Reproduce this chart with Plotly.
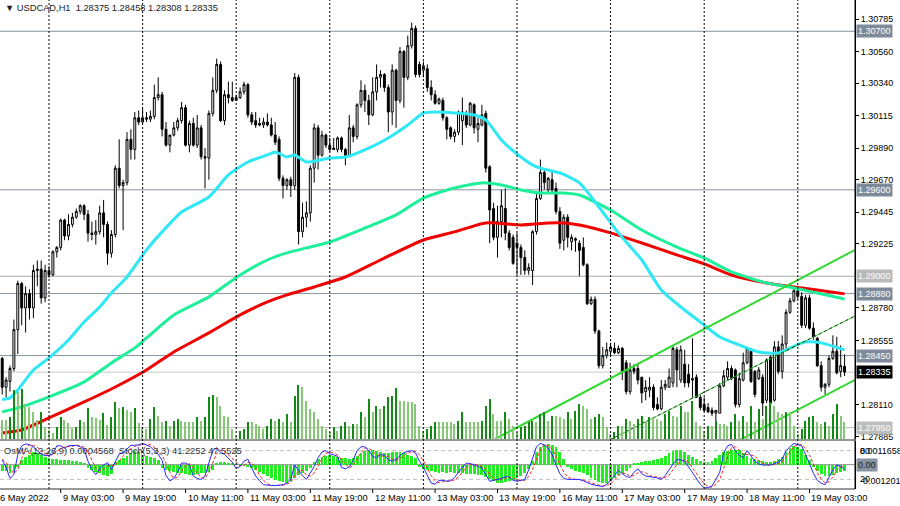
import plotly.graph_objects as go

FONT = "Liberation Sans, Arial, sans-serif"

# USDCAD H1, bar 0 = 6 May 2022 12:00, one bar per hour (weekend skipped)
opens = [1.2843, 1.2823, 1.2827, 1.2836, 1.2863, 1.2895, 1.2878, 1.2888, 1.2878, 1.2904,
         1.2905, 1.2885, 1.2904, 1.2901, 1.2917, 1.2920, 1.2939, 1.2928, 1.2936, 1.2941,
         1.2945, 1.2949, 1.2943, 1.2930, 1.2929, 1.2931, 1.2944, 1.2936, 1.2916, 1.2929,
         1.2975, 1.2963, 1.2965, 1.2995, 1.2988, 1.3010, 1.3007, 1.3010, 1.3009, 1.3011,
         1.3024, 1.3026, 1.3002, 1.2991, 1.2998, 1.3003, 1.3008, 1.3017, 1.2991, 1.3006,
         1.2991, 1.3003, 1.2983, 1.2982, 1.3013, 1.3029, 1.3047, 1.3008, 1.3026, 1.3024,
         1.3022, 1.3024, 1.3028, 1.3033, 1.3012, 1.3008, 1.3006, 1.3005, 1.3007, 1.3005,
         1.2998, 1.2995, 1.2968, 1.2963, 1.2967, 1.2963, 1.3038, 1.2931, 1.2941, 1.2944,
         1.2975, 1.3003, 1.2984, 1.2998, 1.2991, 1.2989, 1.2988, 1.2996, 1.2988, 1.2984,
         1.3003, 1.2997, 1.3019, 1.3029, 1.3022, 1.3012, 1.3028, 1.3038, 1.3040, 1.3031,
         1.3014, 1.3043, 1.3022, 1.3056, 1.3038, 1.3060, 1.3072, 1.3047, 1.3043, 1.3044,
         1.3031, 1.3026, 1.3020, 1.3022, 1.3010, 1.3003, 1.2997, 1.3000, 1.3008, 1.3013,
         1.3005, 1.3019, 1.3002, 1.3005, 1.3013, 1.2976, 1.2947, 1.2927, 1.2938, 1.2947,
         1.2930, 1.2927, 1.2923, 1.2920, 1.2913, 1.2904, 1.2904, 1.2931, 1.2954, 1.2972,
         1.2960, 1.2967, 1.2961, 1.2945, 1.2925, 1.2941, 1.2924, 1.2925, 1.2923, 1.2920,
         1.2908, 1.2881, 1.2884, 1.2862, 1.2838, 1.2845, 1.2848, 1.2850, 1.2847, 1.2850,
         1.2840, 1.2820, 1.2836, 1.2836, 1.2830, 1.2820, 1.2821, 1.2823, 1.2811, 1.2808,
         1.2823, 1.2823, 1.2826, 1.2849, 1.2828, 1.2839, 1.2832, 1.2828, 1.2830, 1.2816,
         1.2811, 1.2809, 1.2807, 1.2805, 1.2805, 1.2824, 1.2830, 1.2836, 1.2835, 1.2811,
         1.2828, 1.2840, 1.2848, 1.2834, 1.2829, 1.2830, 1.2814, 1.2844, 1.2814, 1.2851,
         1.2834, 1.2853, 1.2875, 1.2883, 1.2890, 1.2886, 1.2866, 1.2885, 1.2864, 1.2857,
         1.2838, 1.2823, 1.2825, 1.2843, 1.2848, 1.2834, 1.28375]
highs = [1.2844, 1.2830, 1.2838, 1.2870, 1.2897, 1.2896, 1.2893, 1.2891, 1.2908, 1.2911,
         1.2911, 1.2908, 1.2907, 1.2918, 1.2921, 1.2940, 1.2940, 1.2943, 1.2944, 1.2947,
         1.2950, 1.2950, 1.2946, 1.2938, 1.2939, 1.2949, 1.2953, 1.2938, 1.2932, 1.2977,
         1.2995, 1.2967, 1.3000, 1.3002, 1.3014, 1.3015, 1.3017, 1.3014, 1.3015, 1.3033,
         1.3038, 1.3028, 1.3007, 1.2997, 1.3007, 1.3010, 1.3021, 1.3019, 1.3008, 1.3010,
         1.3012, 1.3005, 1.2989, 1.3015, 1.3038, 1.3051, 1.3049, 1.3029, 1.3035, 1.3035,
         1.3026, 1.3031, 1.3035, 1.3034, 1.3014, 1.3014, 1.3010, 1.3010, 1.3013, 1.3010,
         1.3007, 1.2997, 1.2970, 1.2968, 1.2969, 1.3041, 1.3040, 1.2951, 1.2952, 1.2977,
         1.3006, 1.3005, 1.3001, 1.2999, 1.2996, 1.2996, 1.2997, 1.2997, 1.2989, 1.3012,
         1.3005, 1.3020, 1.3036, 1.3033, 1.3026, 1.3038, 1.3047, 1.3043, 1.3041, 1.3033,
         1.3047, 1.3044, 1.3059, 1.3057, 1.3067, 1.3076, 1.3074, 1.3049, 1.3049, 1.3047,
         1.3036, 1.3029, 1.3024, 1.3024, 1.3011, 1.3004, 1.3002, 1.3015, 1.3024, 1.3015,
         1.3021, 1.3020, 1.3010, 1.3019, 1.3015, 1.2977, 1.2951, 1.2949, 1.2960, 1.2961,
         1.2932, 1.2929, 1.2930, 1.2922, 1.2918, 1.2909, 1.2932, 1.2958, 1.2981, 1.2975,
         1.2969, 1.2973, 1.2965, 1.2948, 1.2943, 1.2943, 1.2929, 1.2927, 1.2925, 1.2927,
         1.2909, 1.2886, 1.2886, 1.2863, 1.2851, 1.2854, 1.2854, 1.2854, 1.2852, 1.2851,
         1.2842, 1.2840, 1.2839, 1.2839, 1.2830, 1.2828, 1.2830, 1.2825, 1.2816, 1.2828,
         1.2828, 1.2836, 1.2852, 1.2851, 1.2852, 1.2849, 1.2839, 1.2857, 1.2832, 1.2818,
         1.2816, 1.2812, 1.2809, 1.2807, 1.2826, 1.2835, 1.2841, 1.2838, 1.2836, 1.2833,
         1.2847, 1.2851, 1.2850, 1.2835, 1.2837, 1.2832, 1.2843, 1.2845, 1.2855, 1.2855,
         1.2859, 1.2877, 1.2885, 1.2892, 1.2892, 1.2889, 1.2887, 1.2887, 1.2868, 1.2858,
         1.2841, 1.2826, 1.2845, 1.2859, 1.2858, 1.2852, 1.28458]
lows = [1.2818, 1.2816, 1.2820, 1.2834, 1.2846, 1.2866, 1.2861, 1.2870, 1.2871, 1.2893,
        1.2881, 1.2882, 1.2899, 1.2900, 1.2913, 1.2918, 1.2925, 1.2925, 1.2934, 1.2940,
        1.2943, 1.2939, 1.2924, 1.2925, 1.2922, 1.2929, 1.2927, 1.2908, 1.2913, 1.2927,
        1.2961, 1.2932, 1.2963, 1.2981, 1.2981, 1.3005, 1.3006, 1.3007, 1.3007, 1.3009,
        1.3022, 1.2997, 1.2990, 1.2986, 1.2997, 1.3001, 1.3006, 1.2990, 1.2986, 1.2990,
        1.2989, 1.2981, 1.2961, 1.2967, 1.3011, 1.3027, 1.3007, 1.3005, 1.3020, 1.3021,
        1.3022, 1.3023, 1.3026, 1.3010, 1.3005, 1.3003, 1.3004, 1.3003, 1.3004, 1.2997,
        1.2991, 1.2966, 1.2954, 1.2960, 1.2955, 1.2960, 1.2922, 1.2927, 1.2934, 1.2938,
        1.2965, 1.2974, 1.2983, 1.2989, 1.2986, 1.2988, 1.2986, 1.2986, 1.2977, 1.2983,
        1.2993, 1.2995, 1.3017, 1.3014, 1.3005, 1.3011, 1.3022, 1.3031, 1.3028, 1.3000,
        1.3005, 1.3003, 1.3020, 1.3017, 1.3036, 1.3058, 1.3038, 1.3038, 1.3038, 1.3028,
        1.3022, 1.3019, 1.3019, 1.3008, 1.2995, 1.2995, 1.2993, 1.2998, 1.2991, 1.3003,
        1.3004, 1.2999, 1.2993, 1.3004, 1.2972, 1.2923, 1.2925, 1.2913, 1.2927, 1.2925,
        1.2918, 1.2908, 1.2901, 1.2901, 1.2901, 1.2901, 1.2894, 1.2929, 1.2953, 1.2960,
        1.2958, 1.2958, 1.2943, 1.2919, 1.2918, 1.2920, 1.2918, 1.2917, 1.2900, 1.2907,
        1.2880, 1.2880, 1.2860, 1.2836, 1.2836, 1.2843, 1.2844, 1.2846, 1.2846, 1.2828,
        1.2818, 1.2818, 1.2832, 1.2825, 1.2812, 1.2814, 1.2816, 1.2807, 1.2807, 1.2807,
        1.2821, 1.2823, 1.2823, 1.2823, 1.2826, 1.2823, 1.2823, 1.2816, 1.2816, 1.2807,
        1.2806, 1.2805, 1.2803, 1.2796, 1.2805, 1.2823, 1.2828, 1.2828, 1.2809, 1.2809,
        1.2827, 1.2839, 1.2826, 1.2816, 1.2828, 1.2803, 1.2812, 1.2811, 1.2813, 1.2832,
        1.2829, 1.2849, 1.2874, 1.2882, 1.2884, 1.2864, 1.2864, 1.2863, 1.2856, 1.2837,
        1.2820, 1.2818, 1.2823, 1.2842, 1.2832, 1.2830, 1.28308]
closes = [1.2823, 1.2828, 1.2836, 1.2863, 1.2895, 1.2878, 1.2888, 1.2878, 1.2904, 1.2905,
          1.2885, 1.2904, 1.2901, 1.2917, 1.2920, 1.2939, 1.2928, 1.2936, 1.2941, 1.2945,
          1.2949, 1.2943, 1.2930, 1.2929, 1.2931, 1.2944, 1.2936, 1.2916, 1.2929, 1.2975,
          1.2963, 1.2965, 1.2995, 1.2988, 1.3010, 1.3007, 1.3010, 1.3009, 1.3011, 1.3024,
          1.3026, 1.3002, 1.2991, 1.2998, 1.3003, 1.3008, 1.3017, 1.2991, 1.3006, 1.2991,
          1.3003, 1.2983, 1.2982, 1.3013, 1.3029, 1.3047, 1.3008, 1.3026, 1.3024, 1.3022,
          1.3024, 1.3028, 1.3033, 1.3012, 1.3007, 1.3005, 1.3005, 1.3007, 1.3005, 1.2998,
          1.2993, 1.2968, 1.2963, 1.2967, 1.2963, 1.3038, 1.2931, 1.2941, 1.2944, 1.2975,
          1.3003, 1.2984, 1.2998, 1.2991, 1.2988, 1.2988, 1.2996, 1.2988, 1.2984, 1.3003,
          1.2997, 1.3019, 1.3029, 1.3022, 1.3012, 1.3028, 1.3038, 1.3040, 1.3031, 1.3014,
          1.3043, 1.3022, 1.3056, 1.3038, 1.3060, 1.3072, 1.3040, 1.3040, 1.3046, 1.3031,
          1.3026, 1.3020, 1.3023, 1.3010, 1.3002, 1.2997, 1.3000, 1.3014, 1.3014, 1.3005,
          1.3020, 1.3003, 1.3006, 1.3012, 1.2975, 1.2946, 1.2927, 1.2938, 1.2949, 1.2930,
          1.2920, 1.2909, 1.2920, 1.2913, 1.2904, 1.2906, 1.2931, 1.2954, 1.2972, 1.2965,
          1.2968, 1.2960, 1.2945, 1.2923, 1.2941, 1.2927, 1.2927, 1.2926, 1.2918, 1.2908,
          1.2881, 1.2884, 1.2862, 1.2838, 1.2845, 1.2849, 1.2851, 1.2847, 1.2850, 1.2834,
          1.2820, 1.2835, 1.2834, 1.2828, 1.2819, 1.2823, 1.2823, 1.2809, 1.2808, 1.2823,
          1.2825, 1.2830, 1.2850, 1.2835, 1.2849, 1.2826, 1.2826, 1.2829, 1.2816, 1.2809,
          1.2807, 1.2806, 1.2805, 1.2807, 1.2824, 1.2831, 1.2836, 1.2829, 1.2811, 1.2829,
          1.2840, 1.2850, 1.2827, 1.2818, 1.2835, 1.2812, 1.2842, 1.2812, 1.2851, 1.2834,
          1.2853, 1.2875, 1.2883, 1.2890, 1.2886, 1.2866, 1.2885, 1.2864, 1.2858, 1.2838,
          1.2823, 1.2825, 1.2843, 1.2848, 1.2833, 1.2838, 1.28335]

# tick volumes (hundreds)
volumes = [19, 19, 22, 49, 47, 50, 35, 32, 27, 19, 27, 12, 9, 6, 12, 22, 19, 16, 11, 12,
           19, 17, 31, 22, 21, 19, 26, 14, 22, 37, 31, 32, 29, 27, 31, 16, 12, 10, 20, 32,
           23, 17, 18, 13, 18, 20, 18, 17, 17, 17, 22, 18, 22, 42, 44, 42, 33, 23, 22, 10,
           3, 8, 10, 17, 17, 15, 13, 10, 13, 20, 18, 20, 17, 25, 17, 43, 54, 52, 38, 30,
           27, 20, 13, 10, 7, 12, 8, 13, 17, 13, 15, 15, 27, 22, 40, 27, 33, 30, 33, 42,
           43, 51, 38, 38, 37, 37, 35, 13, 8, 10, 13, 17, 17, 17, 17, 17, 15, 18, 27, 17,
           17, 17, 17, 18, 33, 40, 25, 18, 18, 27, 20, 13, 7, 12, 13, 17, 18, 17, 25, 27,
           18, 23, 23, 22, 20, 27, 20, 28, 35, 33, 30, 20, 22, 25, 22, 12, 5, 7, 13, 13,
           20, 18, 15, 20, 23, 18, 22, 22, 20, 18, 25, 28, 23, 22, 33, 27, 27, 38, 17, 13,
           8, 13, 13, 18, 15, 15, 13, 17, 25, 18, 23, 17, 33, 17, 30, 20, 33, 37, 33, 27,
           25, 27, 27, 13, 5, 10, 18, 22, 23, 17, 15, 17, 13, 25, 35, 23, 17]

# OsMA(12,26,9) in points (1e-5)
osma = [-30, -30, -40, -35, -10, 25, 40, 50, 60, 55, 50, 40, 35, 30, 30, 25, 25, 25, 20, 20,
        15, 10, -15, -25, -35, -40, -50, -55, -45, 15, 25, 35, 45, 55, 65, 65, 50, 45, 40, 35,
        25, -15, -25, -30, -35, -40, -40, -45, -50, -50, -45, -40, -40, -35, -25, 10, 15, 15, 10, 10,
        0, -5, -5, -10, -15, -25, -35, -45, -55, -65, -75, -80, -85, -90, -80, -65, -50, -40, -30, -15,
        15, 30, 40, 45, 50, 45, 40, 35, 35, 30, 35, 45, 55, 65, 70, 70, 65, 60, 55, 55,
        60, 60, 60, 55, 50, 45, 35, -10, -20, -25, -30, -35, -40, -35, -40, -35, -40, -40, -40, -45,
        -45, -45, -50, -50, -60, -70, -80, -90, -90, -85, -80, -75, -65, -55, -40, -20, 20, 60, 85, 95,
        100, 95, 85, 60, 30, -10, -20, -30, -35, -40, -50, -65, -75, -85, -90, -90, -80, -65, -50, -40,
        -30, -15, 5, 10, 15, 20, 20, 25, 30, 35, 45, 55, 65, 70, 70, 60, 50, 40, 30, 20,
        15, 15, 20, 35, 50, 60, 65, 70, 70, 70, 55, 45, 35, 30, 25, 20, 15, 15, 20, 30,
        40, 60, 80, 90, 85, 75, 50, 25, -10, -30, -45, -55, -55, -50, -40, -35, -30]

# Stochastic(5,3,3)
stoch_main = [60, 45, 22, 30, 72, 90, 94, 92, 88, 80, 72, 70, 70, 73, 90, 90, 85, 90, 91, 91,
              88, 83, 58, 40, 30, 43, 50, 55, 40, 57, 73, 76, 84, 91, 91, 92, 95, 92, 88, 80,
              72, 60, 28, 17, 22, 35, 54, 54, 50, 27, 22, 20, 27, 55, 80, 86, 76, 72, 65, 56,
              43, 47, 58, 62, 43, 27, 17, 9, 8, 7, 7, 8, 9, 12, 20, 50, 38, 28, 20, 33,
              47, 65, 77, 80, 73, 71, 68, 45, 42, 46, 60, 80, 88, 88, 80, 68, 65, 72, 70, 61,
              58, 62, 70, 76, 78, 80, 75, 58, 45, 28, 12, 10, 18, 18, 16, 17, 24, 35, 45, 54,
              53, 50, 48, 44, 30, 16, 18, 20, 22, 26, 25, 18, 16, 18, 20, 40, 62, 88, 95, 92,
              85, 72, 50, 32, 22, 20, 20, 20, 20, 17, 13, 10, 8, 6, 5, 10, 17, 28, 39, 32,
              26, 24, 35, 42, 32, 27, 26, 25, 23, 20, 28, 40, 52, 61, 61, 58, 46, 32, 20, 10,
              2, 3, 6, 20, 35, 75, 90, 93, 80, 70, 65, 80, 68, 58, 52, 50, 50, 50, 53, 56,
              62, 80, 88, 95, 92, 90, 72, 52, 33, 18, 12, 9, 25, 40, 50, 47, 41.2252]
stoch_signal = [62, 55, 42, 32, 41, 64, 85, 92, 91, 87, 80, 74, 71, 71, 78, 84, 88, 88, 89, 91,
                90, 87, 76, 60, 43, 38, 41, 49, 48, 51, 57, 69, 78, 84, 89, 91, 93, 93, 92, 87,
                80, 71, 53, 35, 22, 25, 37, 48, 53, 44, 33, 23, 23, 34, 54, 74, 81, 78, 71, 64,
                55, 49, 49, 56, 54, 44, 29, 18, 11, 8, 7, 7, 8, 10, 14, 27, 36, 39, 29, 27,
                33, 48, 63, 74, 77, 75, 71, 61, 52, 44, 49, 62, 76, 85, 85, 79, 71, 68, 69, 68,
                63, 60, 63, 69, 75, 78, 78, 71, 59, 44, 28, 17, 13, 15, 17, 17, 19, 25, 35, 45,
                51, 52, 50, 47, 41, 30, 21, 18, 20, 23, 24, 23, 20, 17, 18, 26, 41, 63, 82, 92,
                91, 83, 69, 51, 35, 25, 21, 20, 20, 19, 17, 13, 10, 8, 6, 7, 11, 18, 28, 33,
                32, 27, 28, 34, 36, 34, 28, 26, 25, 23, 24, 29, 40, 51, 58, 60, 55, 45, 33, 21,
                11, 5, 4, 10, 20, 43, 67, 86, 88, 81, 72, 72, 71, 69, 59, 53, 51, 50, 51, 53,
                57, 66, 77, 88, 92, 92, 85, 71, 52, 34, 21, 13, 15, 25, 38, 46, 47.5525]

# moving averages (bar, price)
fast_ma_bars = [0, 2, 4, 8, 12, 17, 21, 25, 28, 32, 37, 41, 46, 53, 58, 63, 68, 70, 73, 75,
                78, 84, 88, 94, 99, 104, 108, 111, 116, 121, 124, 128, 133, 137, 143, 148, 153,
                158, 164, 169, 174, 179, 184, 189, 194, 199, 205, 207, 210, 216]
fast_ma = [1.28145, 1.28156, 1.28211, 1.28350, 1.28434, 1.28558, 1.28683, 1.28787, 1.28884,
           1.28995, 1.29183, 1.29308, 1.29446, 1.29550, 1.29703, 1.29793, 1.29842, 1.29863,
           1.29828, 1.29842, 1.29793, 1.29821, 1.29828, 1.29890, 1.29960, 1.30050, 1.30133,
           1.30140, 1.30133, 1.30119, 1.30085, 1.29946, 1.29828, 1.29759, 1.29717, 1.29648,
           1.29481, 1.29301, 1.29113, 1.28905, 1.28787, 1.28683, 1.28579, 1.28524, 1.28475,
           1.28468, 1.28538, 1.28545, 1.28538, 1.28489]
mid_ma_bars = [0, 5, 12, 21, 28, 34, 37, 44, 53, 61, 68, 73, 78, 84, 93, 101, 108, 116, 123,
               128, 133, 138, 144, 148, 156, 164, 173, 180, 187, 196, 203, 209, 216]
mid_ma = [1.28059, 1.28094, 1.28163, 1.28267, 1.28399, 1.28503, 1.28572, 1.28732, 1.28857,
          1.29009, 1.29113, 1.29162, 1.29197, 1.29238, 1.29335, 1.29426, 1.29543, 1.29613,
          1.29648, 1.29634, 1.29599, 1.29578, 1.29578, 1.29564, 1.29460, 1.29321, 1.29203,
          1.29127, 1.29030, 1.28954, 1.28919, 1.28884, 1.28843]
slow_ma_bars = [0, 5, 12, 21, 29, 37, 44, 53, 61, 68, 73, 80, 88, 97, 108, 116, 124, 133, 140,
                144, 148, 156, 164, 173, 180, 187, 196, 203, 209, 216]
slow_ma = [1.27913, 1.27934, 1.28017, 1.28128, 1.28232, 1.28350, 1.28475, 1.28607, 1.28732,
           1.28822, 1.28871, 1.28926, 1.28995, 1.29113, 1.29252, 1.29308, 1.29370, 1.29356,
           1.29370, 1.29370, 1.29356, 1.29301, 1.29231, 1.29148, 1.29086, 1.29009, 1.28954,
           1.28926, 1.28905, 1.28878]

# channel lines (bar, price)
upper_line = ([126.4, 218.6], [1.27871, 1.29182])
middle_line = ([155.8, 218.7], [1.27865, 1.28725])
lower_line = ([189.2, 218.7], [1.27865, 1.28281])

levels = [1.30700, 1.29600, 1.29000, 1.28880, 1.28450, 1.28335, 1.27950]
level_line = ["#8793a2", "#8793a2", "#a8a8a8", "#8793a2", "#8793a2", "#c8c8c8", "#bdbdbd"]
level_box = ["#7d8a9a", "#7d8a9a", "#b9b9b9", "#7d8a9a", "#7d8a9a", "#000000", "#bdbdbd"]

price_ticks = [1.30785, 1.30560, 1.30340, 1.30115, 1.29890, 1.29670, 1.29445, 1.29225,
               1.28780, 1.28555, 1.28110, 1.27885]
day_starts = [12, 36, 60, 84, 108, 132, 156, 180, 204]
time_ticks = [15, 31, 47, 63, 79, 95, 111, 127, 143, 159, 175, 191, 207]
time_text = ["9 May 03:00", "9 May 19:00", "10 May 11:00", "11 May 03:00", "11 May 19:00",
             "12 May 11:00", "13 May 03:00", "13 May 19:00", "16 May 11:00", "17 May 03:00",
             "17 May 19:00", "18 May 11:00", "19 May 03:00"]

n = len(closes)
bars = list(range(n))
H = 489.0  # plot height in px


def py(px):
    # pixel row (from top of plot) -> paper coordinate
    return (H - px) / H


fig = go.Figure()

vol_colors = ["#138a13" if i > 0 and volumes[i] > volumes[i - 1] else "#86c878" for i in range(n)]
fig.add_trace(go.Bar(x=bars, y=volumes, yaxis="y3", width=0.32,
                     marker=dict(color=vol_colors, line=dict(width=0))))

fig.add_trace(go.Candlestick(
    x=bars, open=opens, high=highs, low=lows, close=closes,
    increasing=dict(line=dict(color="black", width=1), fillcolor="white"),
    decreasing=dict(line=dict(color="black", width=1), fillcolor="black"),
    whiskerwidth=0))

for xs, ys, col in [(slow_ma_bars, slow_ma, "#f00000"),
                    (mid_ma_bars, mid_ma, "#1ef09a"),
                    (fast_ma_bars, fast_ma, "#2ee8f5")]:
    fig.add_trace(go.Scatter(x=xs, y=ys, mode="lines",
                             line=dict(color=col, width=3, shape="spline", smoothing=0.6)))

for xs, ys in [upper_line, lower_line]:
    fig.add_trace(go.Scatter(x=xs, y=ys, mode="lines", line=dict(color="#32d932", width=2)))
fig.add_trace(go.Scatter(x=middle_line[0], y=middle_line[1], mode="lines",
                         line=dict(color="#32d932", width=1)))
fig.add_trace(go.Scatter(x=middle_line[0], y=middle_line[1], mode="lines",
                         line=dict(color="#303030", width=1, dash="3px,3px")))

# indicator window
fig.add_trace(go.Bar(x=bars, y=osma, yaxis="y2", width=0.72,
                     marker=dict(color="#22ee22", line=dict(width=0))))
fig.add_trace(go.Scatter(x=bars, y=stoch_signal, yaxis="y4", mode="lines",
                         line=dict(color="#ff2020", width=1, dash="3px,2px")))
fig.add_trace(go.Scatter(x=bars, y=stoch_main, yaxis="y4", mode="lines",
                         line=dict(color="#2828ff", width=1)))

shapes = []
for lv, col in zip(levels, level_line):
    shapes.append(dict(type="line", xref="paper", x0=0, x1=1, yref="y", y0=lv, y1=lv,
                       line=dict(color=col, width=1), layer="below"))
for d in day_starts:
    shapes.append(dict(type="line", xref="x", x0=d, x1=d, yref="paper", y0=0, y1=1,
                       line=dict(color="black", width=1, dash="2px,2px")))
for t in time_ticks:
    shapes.append(dict(type="line", xref="x", x0=t, x1=t, yref="paper", y0=0, y1=py(493),
                       line=dict(color="black", width=1)))
for lv in [80, 20]:
    shapes.append(dict(type="line", xref="paper", x0=0, x1=1, yref="y4", y0=lv, y1=lv,
                       line=dict(color="#c0c0c0", width=1, dash="4px,3px"), layer="below"))
shapes.append(dict(type="line", xref="paper", x0=0, x1=1, yref="y2", y0=0, y1=0,
                   line=dict(color="#909090", width=1), layer="below"))
for p in [440, 489]:
    shapes.append(dict(type="line", xref="paper", x0=0, x1=1, yref="paper", y0=py(p), y1=py(p),
                       line=dict(color="#303030", width=1)))
shapes.append(dict(type="line", xref="paper", x0=1, x1=1, yref="paper", y0=0, y1=1,
                   line=dict(color="black", width=1)))

ann = []
ann.append(dict(text="▼ USDCAD,H1  1.28375 1.28458 1.28308 1.28335", xref="paper", yref="paper",
                x=0, y=py(8), xanchor="left", yanchor="middle", xshift=3, showarrow=False,
                font=dict(family=FONT, size=9.3, color="#202020")))
ann.append(dict(text="OsMA(12,26,9) 0.0004568  Stoch(5,3,3) 41.2252 47.5525", xref="paper",
                yref="paper", x=0, y=py(451), xanchor="left", yanchor="middle", xshift=2,
                showarrow=False, font=dict(family=FONT, size=9.3, color="#303030")))
for lv, bg in zip(levels, level_box):
    ann.append(dict(text="%.5f" % lv, xref="paper", yref="y", x=1, y=lv, xanchor="left",
                    yanchor="middle", xshift=1, showarrow=False, bgcolor=bg, borderpad=1,
                    font=dict(family=FONT, size=9, color="white")))
for t, txt in zip(time_ticks, time_text):
    ann.append(dict(text=txt, xref="x", yref="paper", x=t, y=py(497.5), xanchor="left",
                    yanchor="middle", xshift=0, showarrow=False,
                    font=dict(family=FONT, size=9.3, color="black")))
ann.append(dict(text="6 May 2022", xref="paper", yref="paper", x=0, y=py(497.5), xanchor="left",
                yanchor="middle", xshift=-2, showarrow=False,
                font=dict(family=FONT, size=9.3, color="black")))
for txt, p in [("0.0011658", 451), ("80", 451), ("-0.0012010", 481), ("20", 479)]:
    ann.append(dict(text=txt, xref="paper", yref="paper", x=1, y=py(p), xanchor="left",
                    yanchor="middle", xshift=3, showarrow=False,
                    font=dict(family=FONT, size=9, color="black")))
ann.append(dict(text="0.00", xref="paper", yref="paper", x=1, y=py(465), xanchor="left",
                yanchor="middle", xshift=1, showarrow=False, bgcolor="#8793a2", borderpad=1,
                font=dict(family=FONT, size=9, color="#202020")))

fig.update_layout(
    width=900, height=506,
    margin=dict(l=0, r=45, t=0, b=17),
    paper_bgcolor="white", plot_bgcolor="white",
    showlegend=False, bargap=0,
    xaxis=dict(range=[-0.564, 218.67], visible=False, rangeslider=dict(visible=False),
               showgrid=False, zeroline=False),
    yaxis=dict(domain=[py(439), 1], range=[1.27871, 1.30917], side="right",
               tickvals=price_ticks, ticktext=["%.5f" % v for v in price_ticks],
               ticks="outside", ticklen=3, tickcolor="black", showline=True, linecolor="black",
               showgrid=False, zeroline=False,
               tickfont=dict(family=FONT, size=9, color="black")),
    yaxis3=dict(overlaying="y", range=[0, 439], visible=False),
    yaxis2=dict(domain=[0, py(441)], range=[-120.10, 116.58], side="right",
                showticklabels=False, ticks="", showline=True, linecolor="black",
                showgrid=False, zeroline=False),
    yaxis4=dict(overlaying="y2", range=[0, 100], visible=False),
    shapes=shapes, annotations=ann,
)

fig.write_html("out.html", config={"displayModeBar": False},
               post_script="document.body.style.margin='0px';")
